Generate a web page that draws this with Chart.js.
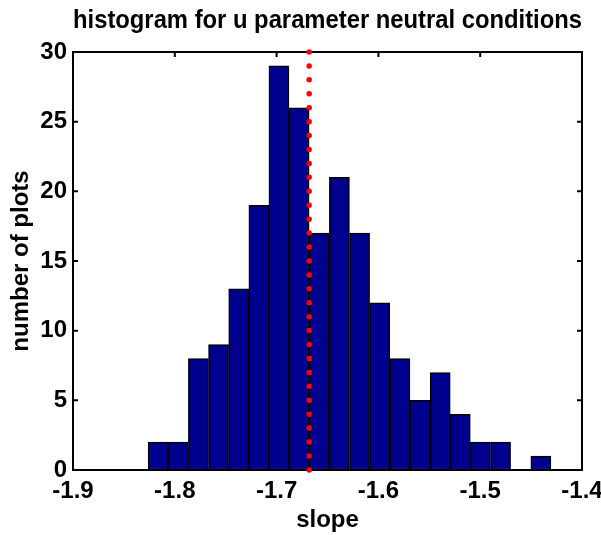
<!DOCTYPE html>
<html lang="en">
<head>
<meta charset="UTF-8">
<title>histogram for u parameter neutral conditions</title>
<script src="https://cdn.jsdelivr.net/npm/chart.js"></script>
<style>
  html, body { margin: 0; padding: 0; background: #fff; }
  #wrap { width: 601px; height: 535px; }
</style>
</head>
<body>
<div id="wrap"><canvas id="hist" width="601" height="535"></canvas></div>
<script>
  // bin centres (slope) and number of plots in each bin
  const binCenters = [-1.8164, -1.7966, -1.7768, -1.7570, -1.7372, -1.7174, -1.6977, -1.6779, -1.6581, -1.6383,
                      -1.6185, -1.5987, -1.5789, -1.5591, -1.5393, -1.5196, -1.4998, -1.4800, -1.4602, -1.4404];
  const counts = [2, 2, 8, 9, 13, 19, 29, 26, 17, 21,
                  17, 12, 8, 5, 7, 4, 2, 2, 0, 1];
  const meanSlope = -1.668;
  const xTicks = [-1.9, -1.8, -1.7, -1.6, -1.5, -1.4];
  const yTicks = [0, 5, 10, 15, 20, 25, 30];

  const FONT = "'Liberation Sans', Arial, Helvetica, sans-serif";

  // MATLAB style box with inward ticks on all four sides
  const frame = {
    id: 'frame',
    beforeDatasetsDraw(chart) {
      const { ctx, chartArea: a, scales: { x, y } } = chart;
      ctx.save();
      ctx.strokeStyle = '#000';
      ctx.lineWidth = 2;
      ctx.strokeRect(a.left, a.top, a.right - a.left, a.bottom - a.top);
      ctx.beginPath();
      xTicks.forEach(v => {
        const px = x.getPixelForValue(v);
        ctx.moveTo(px, a.bottom); ctx.lineTo(px, a.bottom - 5);
        ctx.moveTo(px, a.top); ctx.lineTo(px, a.top + 5);
      });
      yTicks.forEach(v => {
        const py = y.getPixelForValue(v);
        ctx.moveTo(a.left, py); ctx.lineTo(a.left + 5, py);
        ctx.moveTo(a.right, py); ctx.lineTo(a.right - 5, py);
      });
      ctx.stroke();
      ctx.restore();
    }
  };

  new Chart(document.getElementById('hist'), {
    data: {
      datasets: [
        {
          type: 'line',
          order: 1,
          data: [{ x: meanSlope, y: 30 }, { x: meanSlope, y: 0 }],
          borderColor: '#ff0000',
          borderWidth: 5.5,
          borderDash: [0, 13.93],
          borderCapStyle: 'round',
          pointRadius: 0,
          clip: false
        },
        {
          type: 'bar',
          order: 2,
          data: binCenters.map((c, i) => ({ x: c, y: counts[i] })),
          backgroundColor: '#00008f',
          borderColor: '#000',
          borderWidth: 1.5,
          borderSkipped: false,
          barPercentage: 1,
          categoryPercentage: 1
        }
      ]
    },
    options: {
      responsive: false,
      animation: false,
      layout: { padding: { left: 0, right: 19, top: 0, bottom: 0 } },
      plugins: {
        legend: { display: false },
        tooltip: { enabled: false },
        title: {
          display: true,
          fullSize: false,
          text: 'histogram for u parameter neutral conditions',
          color: '#000',
          font: { family: FONT, size: 25, weight: 'bold' },
          padding: { top: 6, bottom: 16 }
        }
      },
      scales: {
        x: {
          type: 'linear',
          min: -1.9,
          max: -1.4,
          offset: false,
          grid: { display: false, drawTicks: false },
          border: { display: false },
          afterBuildTicks: s => { s.ticks = xTicks.map(v => ({ value: v })); },
          afterFit: s => { s.height = 65; s.paddingLeft = 0; s.paddingRight = 0; },
          ticks: {
            color: '#000',
            padding: 7,
            maxRotation: 0,
            font: { family: FONT, size: 24, weight: 'bold' },
            callback: v => v.toFixed(1)
          },
          title: {
            display: true,
            text: 'slope',
            color: '#000',
            font: { family: FONT, size: 24, weight: 'bold' },
            padding: { top: 0, bottom: 0 }
          }
        },
        y: {
          min: 0,
          max: 30,
          grid: { display: false, drawTicks: false },
          border: { display: false },
          afterBuildTicks: s => { s.ticks = yTicks.map(v => ({ value: v })); },
          afterFit: s => { s.width = 73; s.paddingTop = 0; s.paddingBottom = 0; },
          ticks: {
            color: '#000',
            padding: 6,
            font: { family: FONT, size: 24, weight: 'bold' }
          },
          title: {
            display: true,
            text: 'number of plots',
            color: '#000',
            font: { family: FONT, size: 24, weight: 'bold' },
            padding: { top: 7, bottom: 0 }
          }
        }
      }
    },
    plugins: [frame]
  });
</script>
</body>
</html>
